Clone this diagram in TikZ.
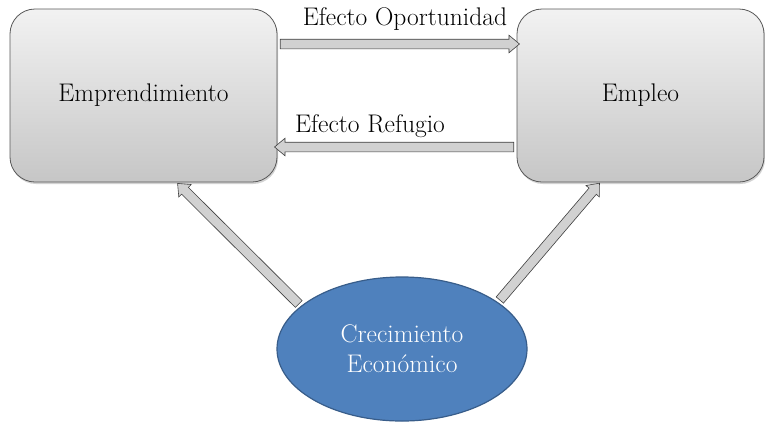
\documentclass[tikz,border=0pt]{standalone}
\usetikzlibrary{shapes.arrows,shapes.geometric,calc,shadows}
\definecolor{boxtop}{HTML}{F2F2F2}
\definecolor{boxbot}{HTML}{C6C6C6}
\definecolor{boxline}{HTML}{595959}
\definecolor{ellfill}{HTML}{4F81BD}
\definecolor{ellline}{HTML}{385D8A}
\tikzset{
  box/.style={rectangle, rounded corners=25pt, draw=boxline, line width=0.8pt,
    top color=boxtop, bottom color=boxbot, font=\fontsize{25.5}{30}\selectfont,
    drop shadow={opacity=0.35, shadow xshift=1pt, shadow yshift=-2pt}},
  ell/.style={ellipse, draw=ellline, line width=1.2pt, fill=ellfill, text=white,
    align=center, font=\fontsize{25.5}{30}\selectfont},
  fatarr/.style={single arrow, draw=black!75, line width=0.6pt, fill=black!18,
    inner xsep=0pt, inner ysep=4.5pt, single arrow head extend=4pt,
    single arrow tip angle=80, anchor=center},
  lbl/.style={font=\fontsize{25.5}{30}\selectfont}
}
\newcommand\fatarrow[2]{%
  \path let \p1=($(#2)-(#1)$), \n1={veclen(\x1,\y1)}, \n2={atan2(\y1,\x1)} in
    node[fatarr, minimum height=\n1, rotate=\n2] at ($(#1)!0.5!(#2)$) {};}
\begin{document}
\begin{tikzpicture}[x=1pt,y=-1pt]
\useasboundingbox[fill=white] (0,0) rectangle (765,421);
\node[box, minimum width=267pt, minimum height=173pt] (L) at (143.5,95.5) {Emprendimiento};
\node[box, minimum width=247pt, minimum height=173pt] (R) at (640.5,95.5) {Empleo};
\node[ell, minimum width=250pt, minimum height=144pt] (E) at (402,349) {Crecimiento\\Económico};
% connector ends
\coordinate (a1) at (L.east |- 0,44);
\coordinate (a2) at (R.west |- 0,44);
\coordinate (b1) at (R.west |- 0,147);
\coordinate (b2) at (L.east |- 0,147);
\coordinate (c2) at ($(L.south west)+(170,3)$);
\coordinate (d2) at ($(R.south west)+(81,3)$);
\coordinate (c1) at (E.157);
\coordinate (d1) at (E.26);
\fatarrow{a1}{a2}
\fatarrow{b1}{b2}
\fatarrow{c1}{c2}
\fatarrow{d1}{d2}
\node[lbl] (t1) at (405,19) {Efecto Oportunidad};
\node[lbl] (t2) at (370,126) {Efecto Refugio};
\end{tikzpicture}
\end{document}
